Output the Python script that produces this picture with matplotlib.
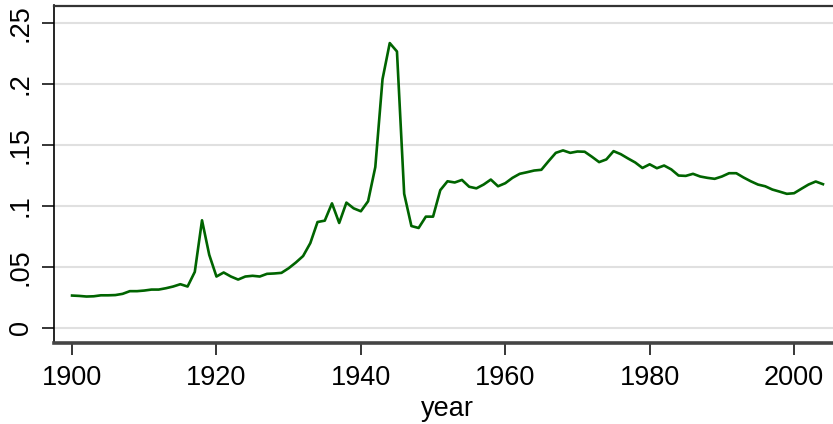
import numpy as np
import matplotlib
matplotlib.use('Agg')
import matplotlib.pyplot as plt

## dati
year = np.arange(1900, 2005)
share = [0.0266, 0.0263, 0.0258, 0.0260, 0.0268, 0.0268, 0.0270, 0.0280, 0.0302, 0.0302,
         0.0307, 0.0315, 0.0315, 0.0326, 0.0340, 0.0359, 0.0340, 0.0460, 0.0883, 0.0600,
         0.0422, 0.0455, 0.0422, 0.0397, 0.0422, 0.0428, 0.0422, 0.0444, 0.0447, 0.0452,
         0.0490, 0.0537, 0.0590, 0.0696, 0.0869, 0.0880, 0.1022, 0.0861, 0.1028, 0.0981,
         0.0957, 0.1039, 0.1319, 0.2040, 0.2336, 0.2267, 0.1100, 0.0836, 0.0820, 0.0913,
         0.0913, 0.1130, 0.1203, 0.1193, 0.1214, 0.1158, 0.1145, 0.1176, 0.1217, 0.1162,
         0.1187, 0.1231, 0.1264, 0.1277, 0.1291, 0.1297, 0.1368, 0.1436, 0.1456, 0.1436,
         0.1447, 0.1445, 0.1404, 0.1360, 0.1382, 0.1450, 0.1425, 0.1390, 0.1357, 0.1312,
         0.1342, 0.1310, 0.1332, 0.1300, 0.1250, 0.1247, 0.1264, 0.1242, 0.1231, 0.1223,
         0.1242, 0.1269, 0.1269, 0.1234, 0.1203, 0.1176, 0.1162, 0.1135, 0.1118, 0.1100,
         0.1105, 0.1141, 0.1176, 0.1201, 0.1179]

xticks = [1900, 1920, 1940, 1960, 1980, 2000]
yticks = [0, 0.05, 0.1, 0.15, 0.2, 0.25]
ylabels = ['0', '.05', '.1', '.15', '.2', '.25']

plt.rcParams['font.family'] = ['Liberation Sans', 'DejaVu Sans']

## figura
fig = plt.figure(figsize=(8.33, 4.24), dpi=100)
ax = fig.add_axes([54/833, 81/424, 787/833, 337.5/424])

ax.plot(year, share, color='#006400', lw=1.9, zorder=3)

ax.set_xlim(1897.5, 2006.5)
ax.set_ylim(-0.0123, 0.2644)
ax.set_xticks(xticks)
ax.set_yticks(yticks)
ax.set_yticklabels(ylabels, rotation=90, va='center')
ax.tick_params(axis='both', length=8.6, width=1.1, labelsize=19.5, direction='out')
ax.tick_params(axis='x', pad=7)
ax.tick_params(axis='y', pad=6)
ax.set_xlabel('year', fontsize=19.5, labelpad=4)

ax.yaxis.grid(True, color='#e0e0e0', lw=1.5)
ax.set_axisbelow(True)

ax.spines['left'].set_linewidth(1.2)
ax.spines['top'].set_linewidth(1.6)
ax.spines['top'].set_color('#333333')
ax.spines['bottom'].set_linewidth(2.6)
ax.spines['bottom'].set_color('#444444')
ax.spines['right'].set_visible(False)

fig.savefig('out.png', dpi=100)
